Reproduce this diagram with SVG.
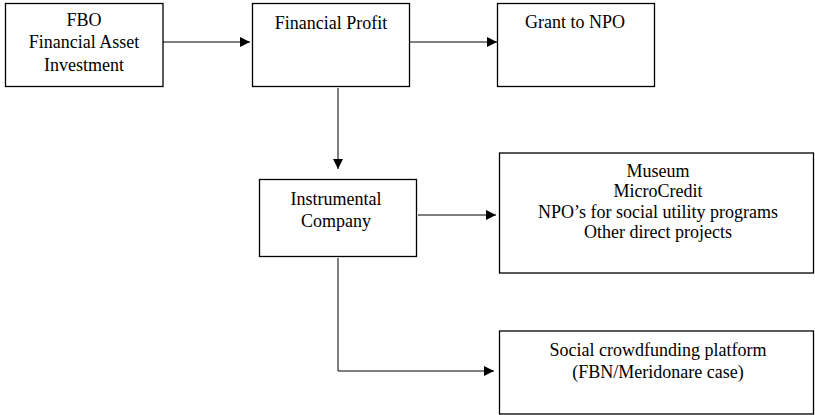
<svg xmlns="http://www.w3.org/2000/svg" width="815" height="415" viewBox="0 0 815 415">
<style>
.box{fill:#fff;stroke:#000;stroke-width:1.3}
.t{font-family:'Liberation Serif','Times New Roman','DejaVu Serif',serif;font-size:18px;fill:#000;text-anchor:middle}
.c{fill:none;stroke:#000;stroke-width:1}
</style>
<defs>
<marker id="ah" viewBox="0 0 10 10" refX="10" refY="5" markerWidth="10" markerHeight="10" markerUnits="userSpaceOnUse" orient="auto">
<path d="M0,0 L10,5 L0,10 z" fill="#000"/>
</marker>
</defs>
<rect width="815" height="415" fill="#fff"/>
<g id="connectors">
<line class="c" x1="163" y1="42" x2="250" y2="42" marker-end="url(#ah)"/>
<line class="c" x1="410" y1="42" x2="497" y2="42" marker-end="url(#ah)"/>
<line class="c" x1="338" y1="88" x2="338" y2="169" marker-end="url(#ah)"/>
<line class="c" x1="418" y1="215" x2="496" y2="215" marker-end="url(#ah)"/>
<polyline class="c" points="338,258 338,371 494,371" marker-end="url(#ah)"/>
</g>
<g id="fbo">
<rect class="box" x="5.5" y="3.5" width="157.5" height="83"/>
<text class="t" x="84" y="26">FBO</text>
<text class="t" x="84" y="48">Financial Asset</text>
<text class="t" x="84" y="71">Investment</text>
</g>
<g id="profit">
<rect class="box" x="252.5" y="3.5" width="157" height="83"/>
<text class="t" x="331" y="29">Financial Profit</text>
</g>
<g id="grant">
<rect class="box" x="497.5" y="3.5" width="157" height="83"/>
<text class="t" x="575" y="28">Grant to NPO</text>
</g>
<g id="instrumental">
<rect class="box" x="259.5" y="179.5" width="157" height="77"/>
<text class="t" x="336" y="205">Instrumental</text>
<text class="t" x="336" y="227">Company</text>
</g>
<g id="projects">
<rect class="box" x="499.5" y="153" width="314" height="120"/>
<text class="t" x="658" y="177">Museum</text>
<text class="t" x="658" y="197">MicroCredit</text>
<text class="t" x="658" y="218">NPO’s for social utility programs</text>
<text class="t" x="658" y="238">Other direct projects</text>
</g>
<g id="crowdfunding">
<rect class="box" x="499.5" y="331" width="314" height="83"/>
<text class="t" x="658" y="356">Social crowdfunding platform</text>
<text class="t" x="658" y="378">(FBN/Meridonare case)</text>
</g>
</svg>
